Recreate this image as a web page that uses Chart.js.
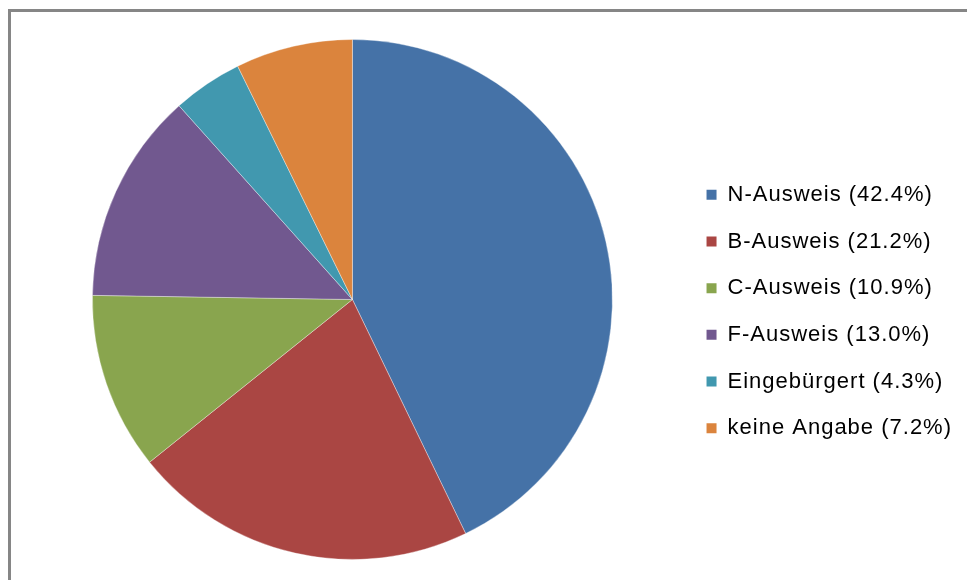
<!DOCTYPE html>
<html>
<head>
<meta charset="utf-8">
<script src="https://cdn.jsdelivr.net/npm/chart.js@4/dist/chart.umd.min.js"></script>
<style>
    html, body { margin: 0; padding: 0; background: #fff; overflow: hidden; }
    #wrap { position: relative; width: 967px; height: 580px; }
    #frame {
        position: absolute; left: 8px; top: 9px;
        width: 1200px; height: 800px;
        border-left: 3px solid #868686;
        border-top: 3px solid #868686;
    }
    #chart { position: absolute; left: 0; top: 0; }
</style>
</head>
<body>
<div id="wrap">
    <div id="frame"></div>
    <canvas id="chart" width="967" height="580"></canvas>
</div>
<script>
const categories = [
    "N-Ausweis (42.4%)",
    "B-Ausweis (21.2%)",
    "C-Ausweis (10.9%)",
    "F-Ausweis (13.0%)",
    "Eingebürgert (4.3%)",
    "keine Angabe (7.2%)"
];
const shares = [42.4, 21.2, 10.9, 13.0, 4.3, 7.2];
const colors = ["#4572A7", "#AA4643", "#89A54E", "#71588F", "#4198AF", "#DB843D"];

// wider legend text, set before the legend measures itself
const spacingPlugin = {
    id: 'letterSpacing',
    beforeLayout(chart) {
        chart.ctx.letterSpacing = '1px';
    }
};

const baseLabels = Chart.overrides.pie.plugins.legend.labels.generateLabels;

new Chart(document.getElementById('chart').getContext('2d'), {
    type: 'pie',
    data: {
        labels: categories,
        datasets: [{
            data: shares,
            backgroundColor: colors,
            borderColor: 'rgba(255,255,255,0.35)',
            borderWidth: 1
        }]
    },
    plugins: [spacingPlugin],
    options: {
        responsive: false,
        animation: false,
        devicePixelRatio: 1,
        layout: {
            padding: { left: 23, right: 5, top: 39, bottom: 20 }
        },
        plugins: {
            tooltip: { enabled: false },
            legend: {
                position: 'right',
                // empty title just pushes the entries down a little
                title: { display: true, text: ' ', font: { size: 10 }, padding: 6 },
                labels: {
                    boxWidth: 10,
                    boxHeight: 10,
                    padding: 24.7,
                    color: '#000',
                    font: { family: 'Arial, "Liberation Sans"', size: 22 },
                    generateLabels: (chart) => baseLabels(chart).map(l => ({ ...l, lineWidth: 0 }))
                }
            }
        }
    }
});
</script>
</body>
</html>
